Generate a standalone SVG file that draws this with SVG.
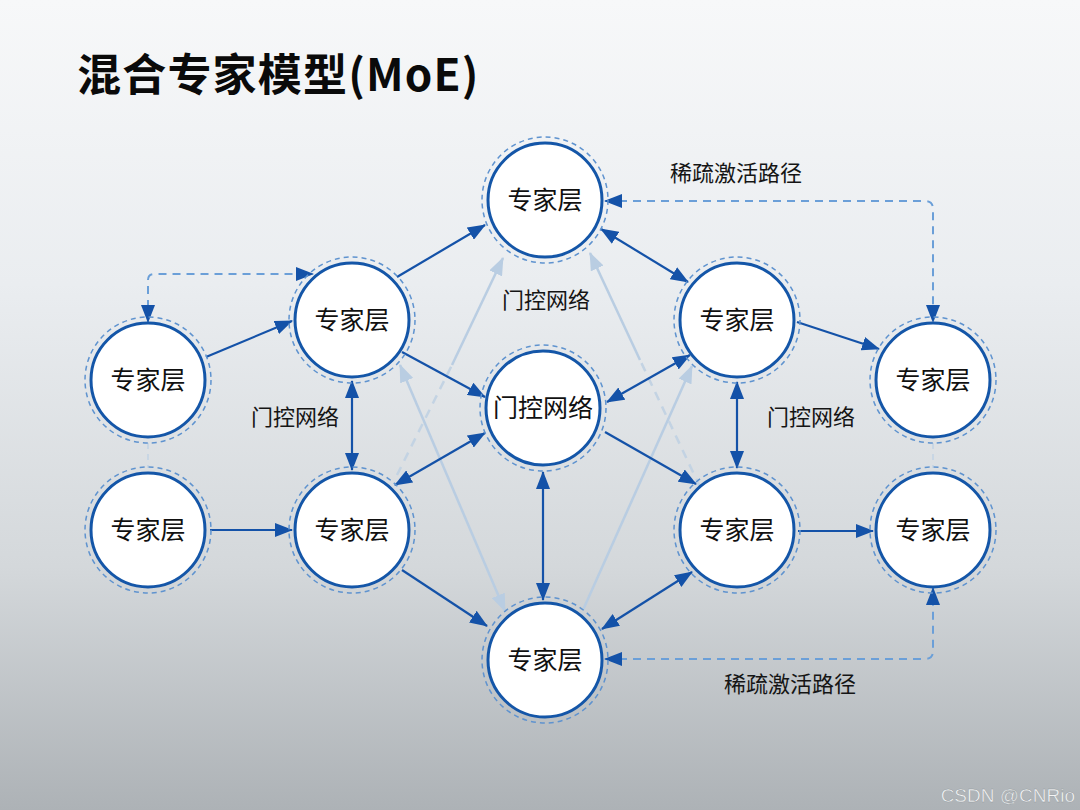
<svg xmlns="http://www.w3.org/2000/svg" width="1080" height="810" viewBox="0 0 1080 810">
<defs>
<linearGradient id="bg" x1="0" y1="0" x2="0" y2="1">
<stop offset="0" stop-color="#f7f8f9"/>
<stop offset="0.35" stop-color="#eaedf0"/>
<stop offset="0.7" stop-color="#d4d8db"/>
<stop offset="1" stop-color="#adb2b6"/>
</linearGradient>
<marker id="ad" viewBox="0 0 18 14" refX="17" refY="7" markerWidth="18" markerHeight="14" markerUnits="userSpaceOnUse" orient="auto-start-reverse">
<path d="M0,0 L18,7 L0,14 z" fill="#1452a8"/>
</marker>
<marker id="al" viewBox="0 0 18 14" refX="17" refY="7" markerWidth="18" markerHeight="14" markerUnits="userSpaceOnUse" orient="auto-start-reverse">
<path d="M0,0 L18,7 L0,14 z" fill="#b9cde2"/>
</marker>
</defs>
<style>
.ring{fill:none;stroke:#5f93cf;stroke-width:1.5;stroke-dasharray:5 4}
.node{fill:#ffffff;stroke:#1456a8;stroke-width:3}
.lbl{font-family:"Noto Sans CJK SC","Noto Sans",sans-serif;font-size:25px;fill:#111;text-anchor:middle}
.edge{stroke:#1452a8;stroke-width:2.2;fill:none}
.sparse{stroke:#6b9fd8;stroke-width:2;fill:none;stroke-dasharray:8 6}
.light{stroke:#b9cde2;stroke-width:2.5;fill:none}
.lightd{stroke:#c3d3e3;stroke-width:2.5;fill:none;stroke-dasharray:9 7}
.faint{stroke:#c8d6e4;stroke-width:2;fill:none;stroke-dasharray:6 5}
.note{font-family:"Noto Sans CJK SC","Noto Sans",sans-serif;font-size:22px;fill:#151515;text-anchor:middle}
</style>
<rect x="0" y="0" width="1080" height="810" fill="url(#bg)"/>
<text x="77" y="91" font-family="'Noto Sans CJK SC','Noto Sans',sans-serif" font-size="44" font-weight="bold" letter-spacing="1.2" fill="#0a0a0a">混合专家模型(MoE)</text>

<g id="connectors">
<line class="light" x1="583" y1="610" x2="692" y2="366" marker-end="url(#al)"/>
<line class="light" x1="400" y1="365" x2="505" y2="611" marker-start="url(#al)" marker-end="url(#al)"/>
<line class="lightd" x1="397" y1="475" x2="452" y2="365"/>
<line class="light" x1="452" y1="365" x2="503" y2="258" marker-end="url(#al)"/>
<line class="lightd" x1="700" y1="487" x2="640" y2="360"/>
<line class="light" x1="640" y1="360" x2="590" y2="253" marker-end="url(#al)"/>
<line class="faint" x1="148" y1="443" x2="148" y2="468"/>
<line class="faint" x1="933" y1="443" x2="933" y2="468"/>

<line class="edge" x1="206" y1="357" x2="292" y2="321" marker-end="url(#ad)"/>
<line class="edge" x1="397" y1="277" x2="485" y2="225" marker-end="url(#ad)"/>
<line class="edge" x1="402" y1="352" x2="485" y2="397" marker-end="url(#ad)"/>
<line class="edge" x1="352" y1="381" x2="352" y2="470" marker-start="url(#ad)" marker-end="url(#ad)"/>
<line class="edge" x1="210" y1="530" x2="292" y2="530" marker-end="url(#ad)"/>
<line class="edge" x1="395" y1="485" x2="485" y2="433" marker-start="url(#ad)" marker-end="url(#ad)"/>
<line class="edge" x1="402" y1="570" x2="487" y2="626" marker-end="url(#ad)"/>
<line class="edge" x1="601" y1="229" x2="688" y2="282" marker-start="url(#ad)" marker-end="url(#ad)"/>
<line class="edge" x1="607" y1="402" x2="690" y2="355" marker-start="url(#ad)" marker-end="url(#ad)"/>
<line class="edge" x1="605" y1="432" x2="696" y2="484" marker-end="url(#ad)"/>
<line class="edge" x1="543" y1="472" x2="543" y2="600" marker-start="url(#ad)" marker-end="url(#ad)"/>
<line class="edge" x1="797" y1="322" x2="879" y2="349" marker-end="url(#ad)"/>
<line class="edge" x1="737" y1="382" x2="737" y2="468" marker-start="url(#ad)" marker-end="url(#ad)"/>
<line class="edge" x1="798" y1="531" x2="873" y2="531" marker-end="url(#ad)"/>
<line class="edge" x1="692" y1="572" x2="602" y2="629" marker-start="url(#ad)" marker-end="url(#ad)"/>

<path class="sparse" d="M148,322 L148,280 Q148,274 154,274 L313,274" marker-start="url(#ad)" marker-end="url(#ad)"/>
<path class="sparse" d="M605,201 L925,201 Q933,201 933,209 L933,322" marker-start="url(#ad)" marker-end="url(#ad)"/>
<path class="sparse" d="M605,659 L925,659 Q933,659 933,651 L933,588" marker-start="url(#ad)" marker-end="url(#ad)"/>
</g>

<g id="labels">
<text class="note" x="736" y="181">稀疏激活路径</text>
<text class="note" x="790" y="692">稀疏激活路径</text>
<text class="note" x="295" y="425">门控网络</text>
<text class="note" x="546" y="308">门控网络</text>
<text class="note" x="811" y="425">门控网络</text>
</g>

<g id="n-top"><circle class="ring" cx="545" cy="200" r="63"/><circle class="node" cx="545" cy="200" r="57"/><text class="lbl" x="545" y="209">专家层</text></g>
<g id="n-ul"><circle class="ring" cx="352" cy="320" r="63"/><circle class="node" cx="352" cy="320" r="57"/><text class="lbl" x="352" y="329">专家层</text></g>
<g id="n-lt"><circle class="ring" cx="148" cy="380" r="63"/><circle class="node" cx="148" cy="380" r="57"/><text class="lbl" x="148" y="389">专家层</text></g>
<g id="n-lb"><circle class="ring" cx="148" cy="530" r="63"/><circle class="node" cx="148" cy="530" r="57"/><text class="lbl" x="148" y="539">专家层</text></g>
<g id="n-ll"><circle class="ring" cx="352" cy="530" r="63"/><circle class="node" cx="352" cy="530" r="57"/><text class="lbl" x="352" y="539">专家层</text></g>
<g id="n-center"><circle class="ring" cx="543" cy="408" r="63"/><circle class="node" cx="543" cy="408" r="57"/><text class="lbl" x="543" y="417">门控网络</text></g>
<g id="n-bottom"><circle class="ring" cx="545" cy="660" r="63"/><circle class="node" cx="545" cy="660" r="57"/><text class="lbl" x="545" y="669">专家层</text></g>
<g id="n-ur"><circle class="ring" cx="737" cy="320" r="63"/><circle class="node" cx="737" cy="320" r="57"/><text class="lbl" x="737" y="329">专家层</text></g>
<g id="n-lr"><circle class="ring" cx="737" cy="530" r="63"/><circle class="node" cx="737" cy="530" r="57"/><text class="lbl" x="737" y="539">专家层</text></g>
<g id="n-rt"><circle class="ring" cx="933" cy="380" r="63"/><circle class="node" cx="933" cy="380" r="57"/><text class="lbl" x="933" y="389">专家层</text></g>
<g id="n-rb"><circle class="ring" cx="933" cy="530" r="63"/><circle class="node" cx="933" cy="530" r="57"/><text class="lbl" x="933" y="539">专家层</text></g>

<text x="1075" y="802" text-anchor="end" font-family="'Liberation Sans',sans-serif" font-size="19" fill="#f4f5f6" stroke="#8f969a" stroke-width="0.4">CSDN @CNRio</text>
</svg>
